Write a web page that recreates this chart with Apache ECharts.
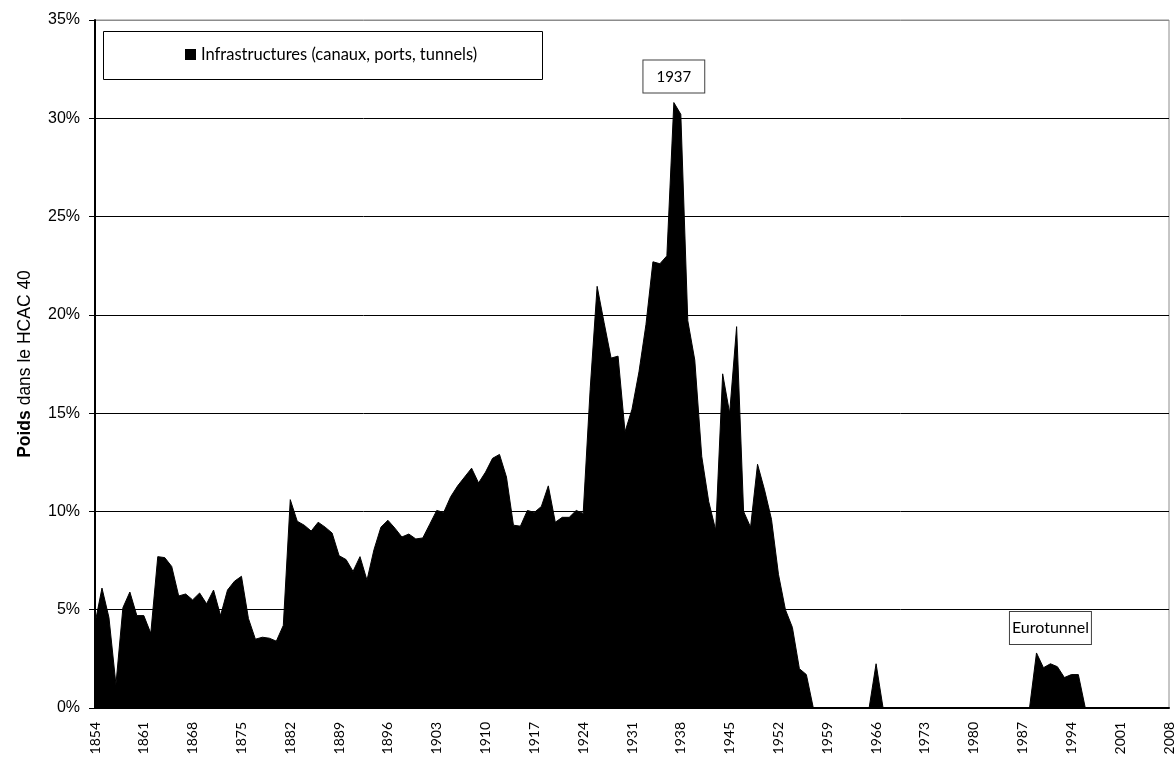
<!DOCTYPE html>
<html>
<head>
<meta charset="utf-8">
<script src="https://cdn.jsdelivr.net/npm/echarts@6/dist/echarts.min.js"></script>
<style>
html,body{margin:0;padding:0;background:#fff;}
#chart{width:1176px;height:760px;}
</style>
</head>
<body>
<div id="chart"></div>
<script>
// Categories: one per year, 1854..2008
const firstYear = 1854;
const lastYear = 2008;
const years = [];
for (let y = firstYear; y <= lastYear; y++) years.push(String(y));

// Weight of infrastructure stocks in the HCAC 40 (%), one value per year
const infraValues = [
  4.3, 6.1, 4.6, 1.2, 5.1, 5.9, 4.7, 4.7, 3.8, 7.7,        // 1854-1863
  7.65, 7.2, 5.7, 5.8, 5.5, 5.85, 5.3, 6.0, 4.7, 6.0,      // 1864-1873
  6.45, 6.7, 4.55, 3.5, 3.6, 3.55, 3.4, 4.2, 10.6, 9.5,    // 1874-1883
  9.3, 9.0, 9.45, 9.2, 8.9, 7.75, 7.55, 6.95, 7.7, 6.5,    // 1884-1893
  8.05, 9.2, 9.55, 9.15, 8.7, 8.85, 8.6, 8.65, 9.35, 10.05, // 1894-1903
  9.95, 10.75, 11.3, 11.75, 12.2, 11.45, 12.0, 12.7, 12.9, 11.75, // 1904-1913
  9.3, 9.25, 10.05, 9.95, 10.25, 11.3, 9.45, 9.7, 9.7, 10.05, // 1914-1923
  9.9, 16.2, 21.45, 19.6, 17.8, 17.9, 14.05, 15.2, 17.1, 19.5, // 1924-1933
  22.7, 22.6, 23.0, 30.8, 30.2, 19.7, 17.7, 12.8, 10.5, 9.05, // 1934-1943
  17.0, 15.0, 19.4, 10.0, 9.2, 12.4, 11.1, 9.6, 6.8, 5.0,  // 1944-1953
  4.1, 2.0, 1.7, 0, 0, 0, 0, 0, 0, 0,                      // 1954-1963
  0, 0, 2.25, 0, 0, 0, 0, 0, 0, 0,                         // 1964-1973
  0, 0, 0, 0, 0, 0, 0, 0, 0, 0,                            // 1974-1983
  0, 0, 0, 0, 0, 2.8, 2.05, 2.25, 2.1, 1.55,               // 1984-1993
  1.7, 1.7, 0, 0, 0, 0, 0, 0, 0, 0,                        // 1994-2003
  0, 0, 0, 0, 0                                            // 2004-2008
];

const seriesName = 'Infrastructures (canaux, ports, tunnels)';
const yTicks = [0, 5, 10, 15, 20, 25, 30, 35];
const peakYear = '1937';
const peakText = '1937';
const tunnelYear = '1991';
const tunnelText = 'Eurotunnel';
const tunnelLabelLevel = 3.25;

const chart = echarts.init(document.getElementById('chart'), null, {renderer: 'canvas'});

const calib = 'Lato, "Open Sans", sans-serif';
const arial = '"Liberation Sans", Arial, sans-serif';

chart.setOption({
  animation: false,
  backgroundColor: '#fff',
  grid: {
    left: 95, right: 5, top: 20, bottom: 52,
    show: true, borderColor: '#8c8c8c', borderWidth: 1,
    containLabel: false
  },
  legend: {
    data: [seriesName],
    left: 185, top: 46, padding: 0,
    icon: 'rect', itemWidth: 11, itemHeight: 11, itemGap: 4,
    textStyle: {fontFamily: calib, fontSize: 16.5, color: '#000'}
  },
  graphic: [{
    type: 'rect',
    shape: {x: 103.5, y: 31.5, width: 439, height: 48},
    style: {fill: 'none', stroke: '#000', lineWidth: 1},
    silent: true, z: 10
  }],
  xAxis: {
    type: 'category',
    data: years,
    boundaryGap: false,
    axisLine: {show: true, lineStyle: {color: '#000', width: 2}},
    axisTick: {show: false},
    axisLabel: {
      interval: 6, rotate: 90, margin: 14,
      fontFamily: calib, fontSize: 14, color: '#000'
    },
    splitLine: {show: false}
  },
  yAxis: {
    type: 'value',
    min: yTicks[0], max: yTicks[yTicks.length - 1], interval: 5,
    name: '{b|Poids} dans le HCAC 40',
    nameLocation: 'middle', nameRotate: 90, nameGap: 61,
    nameTextStyle: {
      fontFamily: arial, fontSize: 17.5, color: '#000',
      rich: {b: {fontFamily: arial, fontSize: 17.5, fontWeight: 'bold', color: '#000'}}
    },
    axisLine: {show: true, lineStyle: {color: '#000', width: 2}},
    axisTick: {show: true, length: 6, lineStyle: {color: '#000', width: 1}},
    axisLabel: {
      formatter: '{value}%', margin: 15,
      fontFamily: arial, fontSize: 16, color: '#000'
    },
    splitLine: {
      show: true,
      lineStyle: {color: ['#000', '#000', '#000', '#000', '#000', '#000', '#000', '#8c8c8c'], width: 1}
    }
  },
  series: [{
    name: seriesName,
    type: 'line',
    data: infraValues,
    symbol: 'none',
    showSymbol: false,
    lineStyle: {color: '#000', width: 1},
    itemStyle: {color: '#000'},
    areaStyle: {color: '#000', opacity: 1},
    z: 3,
    markPoint: {
      symbol: 'rect', symbolSize: 0,
      itemStyle: {color: 'rgba(0,0,0,0)'},
      data: [
        {
          coord: [peakYear, infraValues[years.indexOf(peakYear)]],
          label: {
            show: true, position: 'top', distance: 10,
            formatter: peakText,
            fontFamily: calib, fontSize: 15, color: '#000',
            backgroundColor: '#fff', borderColor: '#404040', borderWidth: 1,
            padding: [9, 13, 8, 13]
          }
        },
        {
          coord: [tunnelYear, tunnelLabelLevel],
          label: {
            show: true, position: 'top', distance: 0,
            formatter: tunnelText,
            fontFamily: calib, fontSize: 16, color: '#000',
            backgroundColor: '#fff', borderColor: '#404040', borderWidth: 1,
            padding: [8, 2, 8, 2]
          }
        }
      ]
    }
  }]
});
</script>
</body>
</html>
